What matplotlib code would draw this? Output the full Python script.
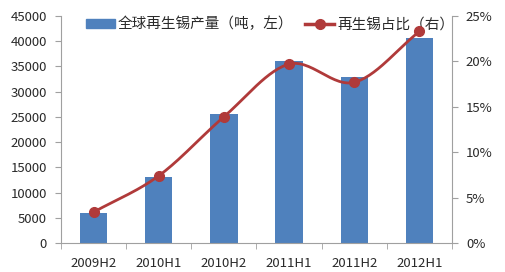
import numpy as np
import matplotlib
matplotlib.use("Agg")
import matplotlib.pyplot as plt
from matplotlib.ticker import FuncFormatter, MultipleLocator
from matplotlib.lines import Line2D
from matplotlib.patches import Patch

plt.rcParams['font.family'] = ['Noto Sans CJK SC', 'DejaVu Sans']

categories = ["2009H2", "2010H1", "2010H2", "2011H1", "2011H2", "2012H1"]
production = [6000, 13000, 25600, 36000, 32900, 40600]
share_pct = [3.4, 7.4, 13.9, 19.7, 17.7, 23.3]
bar_label = "全球再生锡产量（吨，左）"
line_label = "再生锡占比（右）"

bar_color = "#4F81BD"
line_color = "#B03A3A"
text_color = "#2A2A2A"
axis_color = "#A0A0A0"

fig = plt.figure(figsize=(5.05, 2.72), dpi=100)
ax = fig.add_axes([61/505, 1-243/272, (452-61)/505, (243-16)/272])
ax2 = ax.twinx()

x = np.arange(len(categories))
ax.bar(x, production, width=0.42, color=bar_color, label=bar_label, zorder=2)
ax.set_xlim(-0.5, len(categories)-0.5)
ax.set_ylim(0, 45000)
ax.yaxis.set_major_locator(MultipleLocator(5000))

# smooth curve (Catmull-Rom) through data points
def catmull(xs, ys, n=30):
    xs = np.asarray(xs, float); ys = np.asarray(ys, float)
    px = np.concatenate([[2*xs[0]-xs[1]], xs, [2*xs[-1]-xs[-2]]])
    py = np.concatenate([[2*ys[0]-ys[1]], ys, [2*ys[-1]-ys[-2]]])
    ox, oy = [], []
    for i in range(1, len(px)-2):
        t = np.linspace(0, 1, n, endpoint=False)
        for arr, out in ((px, ox), (py, oy)):
            p0, p1, p2, p3 = arr[i-1], arr[i], arr[i+1], arr[i+2]
            out.extend(0.5*((2*p1) + (-p0+p2)*t + (2*p0-5*p1+4*p2-p3)*t**2 + (-p0+3*p1-3*p2+p3)*t**3))
    ox.append(xs[-1]); oy.append(ys[-1])
    return np.array(ox), np.array(oy)

sx, sy = catmull(x, share_pct)
ax2.plot(sx, sy, color=line_color, lw=2, zorder=3)
ax2.plot(x, share_pct, 'o', color=line_color, ms=7, zorder=4)
ax2.set_ylim(0, 25)
ax2.yaxis.set_major_locator(MultipleLocator(5))
ax2.yaxis.set_major_formatter(FuncFormatter(lambda v, p: f"{int(v)}%"))

ax.set_xticks(x)
ax.set_xticklabels(categories)
ax.set_xticks(np.arange(-0.5, len(categories)), minor=True)
ax.tick_params(axis='x', which='major', length=0, pad=10, labelsize=9.5, labelcolor=text_color)
ax.tick_params(axis='x', which='minor', length=4, color=axis_color, direction='out')
ax.tick_params(axis='y', length=4, color=axis_color, labelsize=9.5, labelcolor=text_color, pad=6)
ax2.tick_params(axis='y', length=4, color=axis_color, labelsize=9.5, labelcolor=text_color, pad=6)

for a in (ax, ax2):
    a.spines['top'].set_visible(False)
    for s in ('left', 'right', 'bottom'):
        a.spines[s].set_color(axis_color)
ax.spines['right'].set_visible(False)
ax2.spines['left'].set_visible(False)
ax2.spines['bottom'].set_visible(False)

handles = [Patch(color=bar_color), Line2D([], [], color=line_color, lw=2.5, marker='o', ms=7)]
ax.legend(handles, [bar_label, line_label], ncol=2, frameon=False,
          loc='upper left', bbox_to_anchor=(86/505, 1-17/272), bbox_transform=fig.transFigure,
          fontsize=10.5, handlelength=2.0, handleheight=0.5, handletextpad=0.2, columnspacing=0.8,
          labelcolor=text_color, borderaxespad=0, borderpad=0)
ax2.set_zorder(ax.get_zorder()+1)
ax.patch.set_visible(False)

fig.savefig("out.png", dpi=100)
